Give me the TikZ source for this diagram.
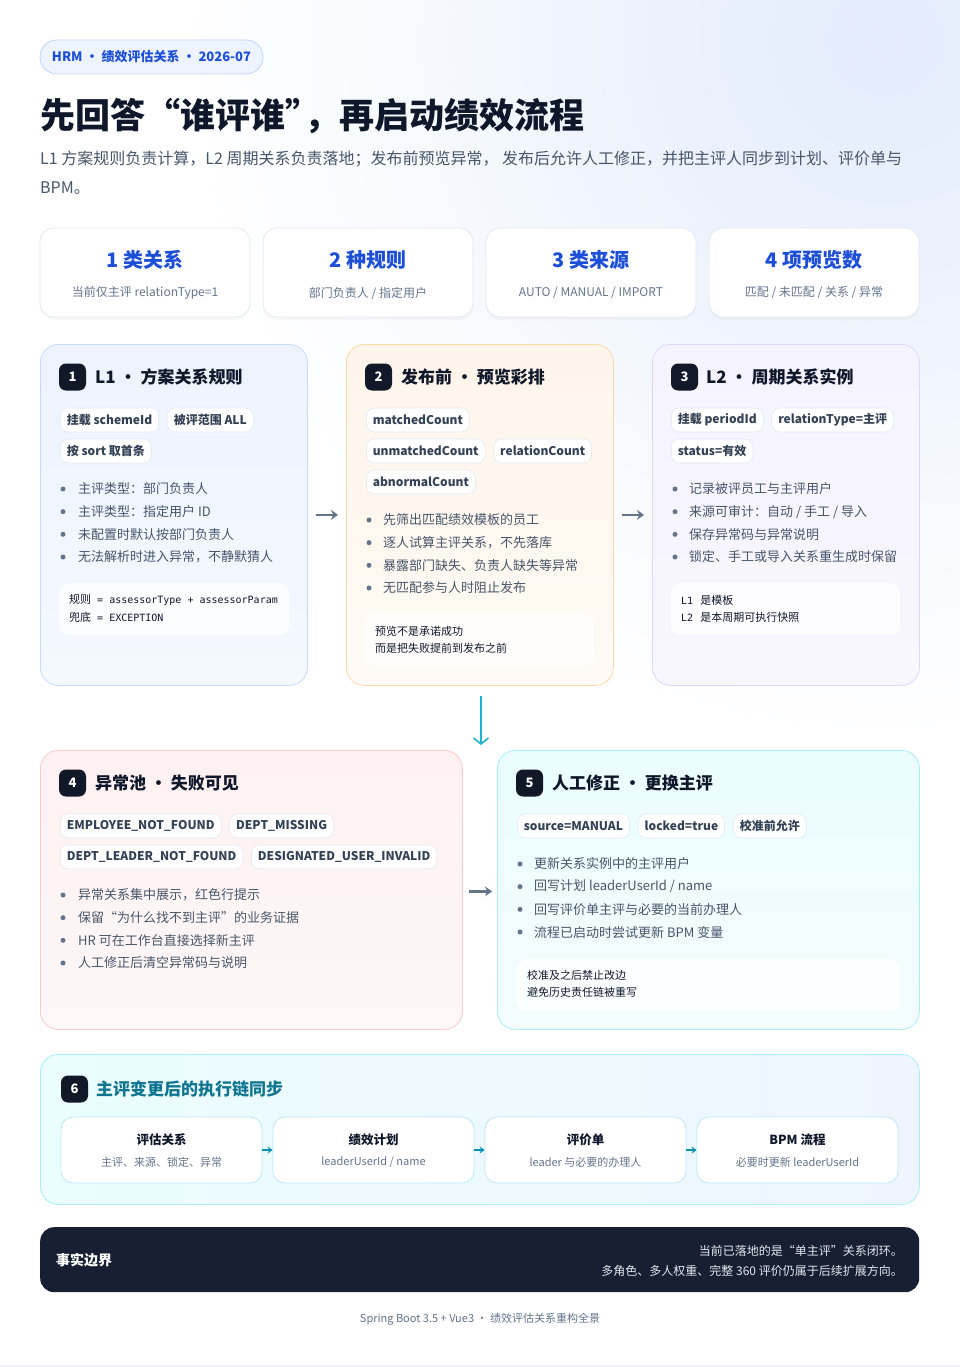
\documentclass[tikz,border=0pt]{standalone}
\usepackage{fontspec}
\setmainfont{Noto Sans CJK SC}
\setmonofont{DejaVu Sans Mono}
\usetikzlibrary{arrows.meta,positioning,shadows}
\definecolor{ink}{HTML}{0F172A}
\definecolor{slate}{HTML}{475569}
\definecolor{muted}{HTML}{64748B}
\definecolor{chipt}{HTML}{334155}
\definecolor{chipb}{HTML}{E2E8F0}
\definecolor{blue}{HTML}{1D4ED8}
\definecolor{pillf}{HTML}{EEF4FF}
\definecolor{pillb}{HTML}{BFD4FB}
\definecolor{glow}{HTML}{E3ECFC}
\definecolor{badgec}{HTML}{111827}
\definecolor{arrowc}{HTML}{64748B}
\definecolor{teal}{HTML}{0E7490}
\definecolor{tealarrow}{HTML}{0891B2}
\definecolor{cyanarrow}{HTML}{1BB3D1}
\definecolor{footc}{HTML}{172033}
\definecolor{foott}{HTML}{E2E8F0}
\definecolor{cAb}{HTML}{C6DCFB}\definecolor{cAt}{HTML}{EDF4FF}\definecolor{cAbt}{HTML}{F4F8FF}
\definecolor{cBb}{HTML}{FCD9A8}\definecolor{cBt}{HTML}{FFF5EA}\definecolor{cBbt}{HTML}{FFFAF5}
\definecolor{cCb}{HTML}{DCD8F8}\definecolor{cCt}{HTML}{F4F3FF}\definecolor{cCbt}{HTML}{F8F7FF}
\definecolor{cDb}{HTML}{FBCACA}\definecolor{cDt}{HTML}{FEF1F1}\definecolor{cDbt}{HTML}{FDF7F7}
\definecolor{cEb}{HTML}{A8EEF8}\definecolor{cEt}{HTML}{EBFDFF}\definecolor{cEbt}{HTML}{F3FCFF}
\definecolor{cFl}{HTML}{EBFDFF}\definecolor{cFr}{HTML}{EEF5FF}
\definecolor{subb}{HTML}{BDE9F7}
\definecolor{bottomline}{HTML}{F1F0F8}
\newcommand{\fsz}[1]{\fontsize{#1}{#1}\selectfont}
\begin{document}
\begin{tikzpicture}[x=1pt,y=-1pt,
  card/.style={draw, line width=0.8pt, rounded corners=18pt, anchor=north west},
  stat/.style={draw=chipb, fill=white, line width=0.8pt, rounded corners=14pt, minimum width=210pt, minimum height=89pt,
     drop shadow={opacity=0.05, shadow xshift=0pt, shadow yshift=-3pt}},
  stattitle/.style={font=\bfseries\fsz{20}, text=blue},
  statsub/.style={font=\fsz{12}, text=muted},
  badge/.style={fill=badgec, rounded corners=7pt, minimum size=27pt, inner sep=0pt, text=white, font=\bfseries\fsz{13}},
  ctitle/.style={anchor=west, inner sep=0pt, font=\bfseries\fsz{17}, text=ink},
  chip/.style={draw=chipb, fill=white, rounded corners=8pt, line width=0.6pt, minimum height=24pt, inner xsep=6.5pt, inner ysep=0pt, font=\bfseries\fsz{12}, text=chipt, anchor=west},
  btxt/.style={anchor=west, inner sep=0pt, font=\fsz{13}, text=slate},
  codebox/.style={fill=white, fill opacity=0.8, rounded corners=10pt, anchor=north west},
  codetxt/.style={anchor=west, inner sep=0pt, text=ink, font=\fsz{11}},
  flowarrow/.style={-{Stealth[length=7pt,width=10pt]}, line width=2.4pt, draw=arrowc},
  subbox/.style={draw=subb, fill=white, line width=0.8pt, rounded corners=12pt, minimum width=201pt, minimum height=66pt},
  subt/.style={font=\bfseries\fsz{12.5}, text=ink},
  subs/.style={font=\fsz{11}, text=muted},
  subarrow/.style={-{Stealth[length=5pt,width=7pt]}, line width=2pt, draw=tealarrow}
]
\useasboundingbox (0,0) rectangle (960,1367);
\fill[white] (0,0) rectangle (960,1367);
\shade[inner color=glow, outer color=white] (885,40) circle (700);
\fill[bottomline] (0,1365) rectangle (960,1367);

% header
\node[draw=pillb, fill=pillf, line width=0.8pt, rounded corners=17pt, minimum width=223pt, minimum height=34pt, font=\bfseries\fsz{13}, text=blue] (pill) at (151.5,57) {HRM • 绩效评估关系 • 2026-07};
\node[anchor=west, inner sep=0pt, font=\bfseries\fsz{35}, text=ink] (title) at (40,116) {先回答“谁评谁”\kern-16pt，再启动绩效流程};
\node[anchor=west, inner sep=0pt, font=\fsz{16}, text=slate] (sub1) at (40,159) {L1 方案规则负责计算，L2 周期关系负责落地；发布前预览异常， 发布后允许人工修正，并把主评人同步到计划、评价单与};
\node[anchor=west, inner sep=0pt, font=\fsz{16}, text=slate] (sub2) at (40,188) {BPM。};

% stats
\node[stat] (st1) at (145,272.5) {};
\node[stat] (st2) at (368,272.5) {};
\node[stat] (st3) at (591,272.5) {};
\node[stat] (st4) at (814,272.5) {};
\node[stattitle] (st1t) at (145,260) {1 类关系};
\node[stattitle] (st2t) at (368,260) {2 种规则};
\node[stattitle] (st3t) at (591,260) {3 类来源};
\node[stattitle] (st4t) at (814,260) {4 项预览数};
\node[statsub] (st1s) at (145,293) {当前仅主评 relationType=1};
\node[statsub] (st2s) at (368,293) {部门负责人 / 指定用户};
\node[statsub] (st3s) at (591,293) {AUTO / MANUAL / IMPORT};
\node[statsub] (st4s) at (814,293) {匹配 / 未匹配 / 关系 / 异常};

% card 1
\node[card, draw=cAb, top color=cAt, bottom color=cAbt, minimum width=267pt, minimum height=341pt] (c1) at (40,344) {};
\node[badge] (n1) at (72.5,377) {1};
\node[ctitle] (t1) at (95,377) {L1 • 方案关系规则};
\node[chip] (k1a) at (60,420) {挂载 schemeId};
\node[chip, right=8pt of k1a] (k1b) {被评范围 ALL};
\node[chip] (k1c) at (60,451) {按 sort 取首条};
\foreach \t [count=\i from 0] in {{主评类型：部门负责人},{主评类型：指定用户 ID},{未配置时默认按部门负责人},{无法解析时进入异常，不静默猜人}} {
  \fill[muted] (63,489+22.67*\i) circle (2.5);
  \node[btxt] (ba\i) at (78,489+22.67*\i) {\t};
}
\node[codebox, minimum width=230pt, minimum height=52pt] (cb1) at (59,583) {};
\node[codetxt] (cb1a) at (69,600) {规则\texttt{\fsz{10} = assessorType + assessorParam}};
\node[codetxt] (cb1b) at (69,617) {兜底\texttt{\fsz{10} = EXCEPTION}};

% card 2
\node[card, draw=cBb, top color=cBt, bottom color=cBbt, minimum width=267pt, minimum height=341pt] (c2) at (346,344) {};
\node[badge] (n2) at (378.5,377) {2};
\node[ctitle] (t2) at (401,377) {发布前 • 预览彩排};
\node[chip] (k2a) at (366,420) {matchedCount};
\node[chip] (k2b) at (366,451) {unmatchedCount};
\node[chip, right=8pt of k2b] (k2c) {relationCount};
\node[chip] (k2d) at (366,482) {abnormalCount};
\foreach \t [count=\i from 0] in {{先筛出匹配绩效模板的员工},{逐人试算主评关系，不先落库},{暴露部门缺失、负责人缺失等异常},{无匹配参与人时阻止发布}} {
  \fill[muted] (369,520+22.67*\i) circle (2.5);
  \node[btxt] (bb\i) at (383,520+22.67*\i) {\t};
}
\node[codebox, minimum width=229pt, minimum height=52pt] (cb2) at (365,614) {};
\node[codetxt] (cb2a) at (375,631) {预览不是承诺成功};
\node[codetxt] (cb2b) at (375,648) {而是把失败提前到发布之前};

% card 3
\node[card, draw=cCb, top color=cCt, bottom color=cCbt, minimum width=267pt, minimum height=341pt] (c3) at (652,344) {};
\node[badge] (n3) at (684.5,377) {3};
\node[ctitle] (t3) at (706,377) {L2 • 周期关系实例};
\node[chip] (k3a) at (671,420) {挂载 periodId};
\node[chip, right=8pt of k3a] (k3b) {relationType=主评};
\node[chip] (k3c) at (671,451) {status=有效};
\foreach \t [count=\i from 0] in {{记录被评员工与主评用户},{来源可审计：自动 / 手工 / 导入},{保存异常码与异常说明},{锁定、手工或导入关系重生成时保留}} {
  \fill[muted] (675,489+22.67*\i) circle (2.5);
  \node[btxt] (bc\i) at (689,489+22.67*\i) {\t};
}
\node[codebox, minimum width=229pt, minimum height=52pt] (cb3) at (671,583) {};
\node[codetxt] (cb3a) at (681,600) {\texttt{\fsz{10}L1\ }\kern1pt 是模板};
\node[codetxt] (cb3b) at (681,617) {\texttt{\fsz{10}L2\ }\kern1pt 是本周期可执行快照};

% card 4
\node[card, draw=cDb, top color=cDt, bottom color=cDbt, minimum width=422pt, minimum height=279pt] (c4) at (40,750) {};
\node[badge] (n4) at (72.5,783) {4};
\node[ctitle] (t4) at (95,783) {异常池 • 失败可见};
\node[chip] (k4a) at (60,826) {EMPLOYEE\_NOT\_FOUND};
\node[chip, right=8pt of k4a] (k4b) {DEPT\_MISSING};
\node[chip] (k4c) at (60,857) {DEPT\_LEADER\_NOT\_FOUND};
\node[chip, right=8pt of k4c] (k4d) {DESIGNATED\_USER\_INVALID};
\foreach \t [count=\i from 0] in {{异常关系集中展示，红色行提示},{保留“为什么找不到主评”的业务证据},{HR 可在工作台直接选择新主评},{人工修正后清空异常码与说明}} {
  \fill[muted] (63,895+22.67*\i) circle (2.5);
  \node[btxt] (bd\i) at (78,895+22.67*\i) {\t};
}

% card 5
\node[card, draw=cEb, top color=cEt, bottom color=cEbt, minimum width=422pt, minimum height=279pt] (c5) at (497,750) {};
\node[badge] (n5) at (529.5,783) {5};
\node[ctitle] (t5) at (552,783) {人工修正 • 更换主评};
\node[chip] (k5a) at (517,826) {source=MANUAL};
\node[chip, right=8pt of k5a] (k5b) {locked=true};
\node[chip, right=8pt of k5b] (k5c) {校准前允许};
\foreach \t [count=\i from 0] in {{更新关系实例中的主评用户},{回写计划 leaderUserId / name},{回写评价单主评与必要的当前办理人},{流程已启动时尝试更新 BPM 变量}} {
  \fill[muted] (520,864+22.67*\i) circle (2.5);
  \node[btxt] (be\i) at (534,864+22.67*\i) {\t};
}
\node[codebox, minimum width=384pt, minimum height=51pt] (cb5) at (516,959) {};
\node[codetxt] (cb5a) at (527,975) {校准及之后禁止改边};
\node[codetxt] (cb5b) at (527,992) {避免历史责任链被重写};

% flow arrows
\draw[flowarrow, shorten <=8pt, shorten >=8pt] (c1.east) -- (c2.west);
\draw[flowarrow, shorten <=8pt, shorten >=8pt] (c2.east) -- (c3.west);
\draw[flowarrow, shorten <=6pt, shorten >=5pt] ([yshift=-1.5pt]c4.east) -- ([yshift=-1.5pt]c5.west);
\coordinate (dn) at (481,745);
\draw[-{Straight Barb[length=6pt,width=15pt]}, line width=1.6pt, draw=cyanarrow, shorten <=10pt] (c2.south -| dn) -- (dn);

% card 6
\node[card, draw=cEb, left color=cFl, right color=cFr, minimum width=879pt, minimum height=150pt] (c6) at (40,1054) {};
\node[badge] (n6) at (74.5,1089) {6};
\node[ctitle, text=teal] (t6) at (96,1089) {主评变更后的执行链同步};
\node[subbox] (s1) at (161.5,1150) {};
\node[subbox] (s2) at (373.5,1150) {};
\node[subbox] (s3) at (585.5,1150) {};
\node[subbox] (s4) at (797.5,1150) {};
\node[subt] (s1t) at ([yshift=10pt]s1.center) {评估关系};
\node[subt] (s2t) at ([yshift=10pt]s2.center) {绩效计划};
\node[subt] (s3t) at ([yshift=10pt]s3.center) {评价单};
\node[subt] (s4t) at ([yshift=10pt]s4.center) {BPM 流程};
\node[subs] (s1s) at ([yshift=-12pt]s1.center) {主评、来源、锁定、异常};
\node[subs] (s2s) at ([yshift=-12pt]s2.center) {leaderUserId / name};
\node[subs] (s3s) at ([yshift=-12pt]s3.center) {leader 与必要的办理人};
\node[subs] (s4s) at ([yshift=-12pt]s4.center) {必要时更新 leaderUserId};
\draw[subarrow] (s1) -- (s2);
\draw[subarrow] (s2) -- (s3);
\draw[subarrow] (s3) -- (s4);

% footer
\node[fill=footc, rounded corners=14pt, minimum width=879pt, minimum height=65pt, anchor=north west] (ft) at (40,1227) {};
\node[anchor=west, inner sep=0pt, font=\bfseries\fsz{14}, text=white] (ftl) at (56,1260) {事实边界};
\node[anchor=east, inner sep=0pt, align=right, font=\fontsize{12}{20}\selectfont, text=foott] (ftr) at (903,1261) {当前已落地的是“单主评”关系闭环。\\多角色、多人权重、完整 360 评价仍属于后续扩展方向。};
\node[font=\fsz{11}, text=muted] (cap) at (480,1319) {Spring Boot 3.5 + Vue3 • 绩效评估关系重构全景};
\end{tikzpicture}
\end{document}
